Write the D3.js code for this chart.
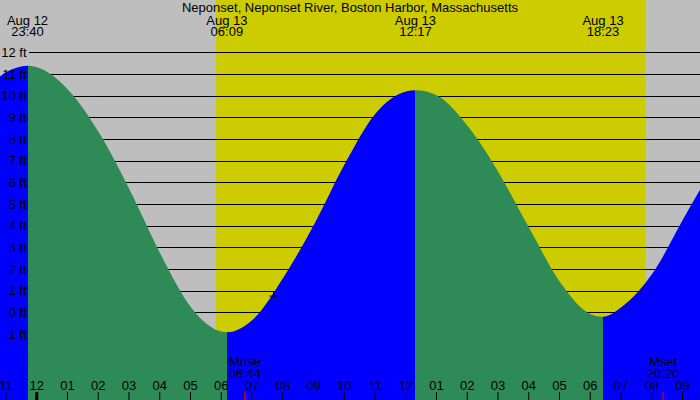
<!DOCTYPE html>
<html>
<head>
<meta charset="utf-8">
<script src="https://cdn.jsdelivr.net/npm/d3@7"></script>
<style>
  html, body { margin: 0; padding: 0; background: #fff; }
  svg { display: block; }
</style>
</head>
<body>
<div id="chart"></div>
<script>
// Hours are counted from midnight, Aug 13 (negative = Aug 12).
const TITLE = "Neponset, Neponset River, Boston Harbor, Massachusetts";

const extremeDates = ["Aug 12", "Aug 13", "Aug 13", "Aug 13"];
const extremeClock = ["23:40", "06:09", "12:17", "18:23"];
const extremeFeet = [11.38, -0.92, 10.25, -0.2];

// Hourly water level, feet
const hourlyHours = [-2, -1, 0, 1, 2, 3, 4, 5, 6, 7, 8, 9, 10, 11, 12, 13, 14, 15, 16, 17, 18, 19, 20, 21, 22];
const hourlyFeet = [9.8, 11.1, 11.3, 10.25, 8.27, 5.62, 2.67, 0.2, -0.9, -0.33, 1.63, 4.09, 6.89, 9.2, 10.2, 10.0, 8.56, 6.42, 3.84, 1.36, -0.1, 0.26, 1.81, 4.33, 6.8];

// Sun and moon
const sunriseClock = "05:48";
const sunsetClock = "19:47";
const moonLabels = ["Mrise", "Mset"];
const moonClock = ["06:44", "20:20"];

// Current reading marker
const nowClock = "07:40";
const nowFeet = 0.75;

// Axis ticks
const footTicks = [-1, 0, 1, 2, 3, 4, 5, 6, 7, 8, 9, 10, 11, 12];
const hourTicks = [-1, 0, 1, 2, 3, 4, 5, 6, 7, 8, 9, 10, 11, 12, 13, 14, 15, 16, 17, 18, 19, 20, 21];

const width = 700;
const height = 400;
const FONT = "'Liberation Sans', Arial, Helvetica, sans-serif";

const COLORS = {
  night: "#bebebe",
  day: "#cccc00",
  rising: "#0000ff",
  falling: "#2e8b57",
};

function clockToHours(clock, date = "Aug 13") {
  const [hh, mm] = clock.split(":").map(Number);
  return (date === "Aug 12" ? -24 : 0) + hh + mm / 60;
}

const extremes = extremeClock.map((c, i) => ({
  t: clockToHours(c, extremeDates[i]),
  ft: extremeFeet[i],
  date: extremeDates[i],
  clock: c,
}));

const levels = hourlyHours
  .map((t, i) => ({ t, ft: hourlyFeet[i] }))
  .concat(extremes.map((d) => ({ t: d.t, ft: d.ft })))
  .sort((a, b) => a.t - b.t);

const x = d3.scaleLinear().domain([0, 1]).range([37.75, 37.75 + 30.75]);
const y = d3.scaleLinear().domain([0, 12]).range([312.3, 52.3]);

const svg = d3
  .select("#chart")
  .append("svg")
  .attr("width", width)
  .attr("height", height)
  .attr("viewBox", `0 0 ${width} ${height}`)
  .style("font-family", FONT);

// Night / day background
svg.append("rect").attr("x", 0).attr("y", 0).attr("width", width).attr("height", height).attr("fill", COLORS.night);

const sunX0 = x(clockToHours(sunriseClock));
const sunX1 = x(clockToHours(sunsetClock));
svg
  .append("rect")
  .attr("x", sunX0)
  .attr("y", 0)
  .attr("width", sunX1 - sunX0)
  .attr("height", height)
  .attr("fill", COLORS.day);

// Foot grid lines (under the water)
svg
  .append("g")
  .selectAll("line")
  .data(footTicks)
  .join("line")
  .attr("x1", 29)
  .attr("x2", width)
  .attr("y1", (d) => Math.round(y(d)) + 0.5)
  .attr("y2", (d) => Math.round(y(d)) + 0.5)
  .attr("stroke", "#000")
  .attr("stroke-width", 1);

// Water area, coloured by rising / falling between extremes
const area = d3
  .area()
  .x((d) => x(d.t))
  .y0(height)
  .y1((d) => y(d.ft))
  .curve(d3.curveMonotoneX);

svg.append("clipPath").attr("id", "water").append("path").datum(levels).attr("d", area);

const bounds = [x.invert(-20)].concat(extremes.map((d) => d.t), [x.invert(width + 20)]);
const segments = d3.pairs(bounds).map(([t0, t1], i) => {
  // before first extreme (a high) the tide is rising
  const prev = i === 0 ? null : extremes[i - 1];
  const next = extremes[i] || null;
  let rising;
  if (next) rising = prev ? next.ft > prev.ft : true;
  else rising = prev.ft < extremes[i - 2].ft;
  return { t0, t1, rising };
});

svg
  .append("g")
  .attr("clip-path", "url(#water)")
  .selectAll("rect")
  .data(segments)
  .join("rect")
  .attr("x", (d) => x(d.t0))
  .attr("y", 0)
  .attr("width", (d) => x(d.t1) - x(d.t0))
  .attr("height", height)
  .attr("fill", (d) => (d.rising ? COLORS.rising : COLORS.falling))
  .attr("shape-rendering", "crispEdges");

// Foot labels
svg
  .append("g")
  .selectAll("text")
  .data(footTicks)
  .join("text")
  .attr("x", 26.5)
  .attr("y", (d) => y(d) + 4.7)
  .attr("text-anchor", "end")
  .attr("font-size", 13)
  .attr("fill", "#000")
  .text((d) => `${d} ft`);

// Title and extreme labels
svg
  .append("text")
  .attr("x", width / 2)
  .attr("y", 11.7)
  .attr("text-anchor", "middle")
  .attr("font-size", 13)
  .text(TITLE);

const exLabels = svg.append("g").selectAll("g").data(extremes).join("g");
exLabels
  .append("text")
  .attr("x", (d) => x(d.t))
  .attr("y", 25)
  .attr("text-anchor", "middle")
  .attr("font-size", 13)
  .text((d) => d.date);
exLabels
  .append("text")
  .attr("x", (d) => x(d.t))
  .attr("y", 36)
  .attr("text-anchor", "middle")
  .attr("font-size", 13)
  .text((d) => d.clock);

// Hour ticks and labels
const hourLabel = (h) => {
  const v = ((h % 12) + 12) % 12;
  return String(v === 0 ? 12 : v).padStart(2, "0");
};

svg
  .append("g")
  .selectAll("line")
  .data(hourTicks)
  .join("line")
  .attr("x1", (d) => x(d) - 1)
  .attr("x2", (d) => x(d) - 1)
  .attr("y1", 392)
  .attr("y2", height)
  .attr("stroke", "#000")
  .attr("stroke-width", (d) => (d % 24 === 0 ? 3 : 1));

svg
  .append("g")
  .selectAll("text")
  .data(hourTicks)
  .join("text")
  .attr("x", (d) => x(d) - 1)
  .attr("y", 390)
  .attr("text-anchor", "middle")
  .attr("font-size", 13)
  .text(hourLabel);

// Moon rise / set
const moon = moonLabels.map((label, i) => ({ label, clock: moonClock[i], t: clockToHours(moonClock[i]) }));
const moonG = svg.append("g").selectAll("g").data(moon).join("g");
moonG
  .append("line")
  .attr("x1", (d) => x(d.t))
  .attr("x2", (d) => x(d.t))
  .attr("y1", 392)
  .attr("y2", height)
  .attr("stroke", "#ff0000")
  .attr("stroke-width", 1);
moonG
  .append("text")
  .attr("x", (d) => x(d.t))
  .attr("y", 366)
  .attr("text-anchor", "middle")
  .attr("font-size", 13)
  .text((d) => d.label);
moonG
  .append("text")
  .attr("x", (d) => x(d.t))
  .attr("y", 378)
  .attr("text-anchor", "middle")
  .attr("font-size", 13)
  .text((d) => d.clock);

// Current level marker
const nx = x(clockToHours(nowClock));
const ny = y(nowFeet);
svg
  .append("path")
  .attr("d", `M${nx - 4},${ny} H${nx + 4} M${nx},${ny - 4} V${ny + 4}`)
  .attr("stroke", "#000")
  .attr("stroke-width", 1)
  .attr("fill", "none");
</script>
</body>
</html>
